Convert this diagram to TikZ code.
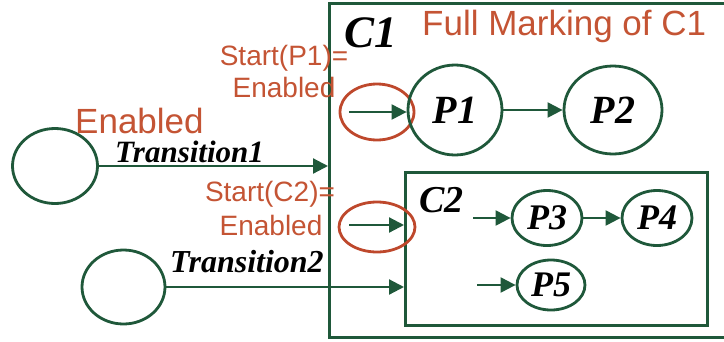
\documentclass[tikz,border=0pt]{standalone}
\usepackage{fontspec}
\setmainfont{Liberation Serif}
\setsansfont{Liberation Sans}
\usetikzlibrary{shapes.geometric,arrows.meta}
\definecolor{pg}{RGB}{31,88,58}
\definecolor{rd}{RGB}{196,84,52}
\definecolor{rdline}{RGB}{190,72,44}
\begin{document}
\begin{tikzpicture}[x=1pt,y=-1pt,
  place/.style={ellipse,draw=pg,line width=2.8pt,inner sep=0pt},
  redring/.style={ellipse,draw=rdline,line width=2.8pt,inner sep=0pt},
  boxc/.style={rectangle,draw=pg,line width=2.8pt,inner sep=0pt,anchor=north west},
  arr/.style={draw=pg,line width=2.2pt,-{Triangle[length=15pt,width=15pt]}},
  redtxt/.style={text=rd,inner sep=0pt,font=\sffamily\fontsize{#1}{#1}\selectfont},
  blktxt/.style={text=black,inner sep=0pt,font=\bfseries\itshape\fontsize{#1}{#1}\selectfont}]
\useasboundingbox (0,0) rectangle (724,341);
\clip (0,0) rectangle (724,341);
% boxes
\node[boxc,minimum width=432pt,minimum height=334pt] (C1) at (328,2) {};
\node[boxc,minimum width=302pt,minimum height=153pt] (C2) at (404,171) {};
% left places
\node[place,minimum width=85pt,minimum height=75pt] (E1) at (55,166) {};
\node[place,minimum width=83pt,minimum height=74pt] (E2) at (123.5,287) {};
% red rings
\node[redring,minimum width=74pt,minimum height=56pt] (R1) at (377,112) {};
\node[redring,minimum width=76pt,minimum height=50pt] (R2) at (377,227) {};
% places in C1
\node[place,minimum width=94pt,minimum height=90pt,blktxt=40] (P1) at (455,110) {P1};
\node[place,minimum width=98pt,minimum height=88pt,blktxt=40] (P2) at (613,110) {P2};
% places in C2
\node[place,minimum width=70pt,minimum height=55pt,blktxt=36] (P3) at (547,218) {P3};
\node[place,minimum width=70pt,minimum height=55pt,blktxt=36] (P4) at (657,218) {P4};
\node[place,minimum width=68pt,minimum height=50pt,blktxt=36] (P5) at (551,285) {P5};
% free ends
\coordinate (a1) at (349,112);
\coordinate (a2) at (349,225);
\coordinate (a3) at (473,218);
\coordinate (a5) at (477,285);
% connectors
\draw[arr] (E1.east) -- (E1.east -| C1.west);
\draw[arr] (E2.east) -- (E2.east -| C2.west);
\draw[arr] (a1) -- (a1 -| P1.west);
\draw[arr] (P1) -- (P2);
\draw[arr] (a2) -- (a2 -| C2.west);
\draw[arr] (a3) -- (P3);
\draw[arr] (P3) -- (P4);
\draw[arr] (a5) -- (P5);
% texts
\node[redtxt=35,anchor=base west] (tfull) at (422,35) {Full Marking of C1};
\node[blktxt=45,anchor=base west] (tc1) at (344,47) {C1};
\node[blktxt=38,anchor=base west] (tc2) at (419,212) {C2};
\node[redtxt=28,anchor=base] (ts1) at (284,65) {Start(P1)=};
\node[redtxt=28,anchor=base] (te1) at (284,97) {Enabled};
\node[redtxt=28,anchor=base] (ts2) at (270,201) {Start(C2)=};
\node[redtxt=28,anchor=base] (te2) at (271,235) {Enabled};
\node[redtxt=35,anchor=base west] (ten) at (75,133) {Enabled};
\node[blktxt=31,anchor=base west] (tt1) at (115,162) {Transition1};
\node[blktxt=32,anchor=base west] (tt2) at (170,272) {Transition2};
\end{tikzpicture}
\end{document}
